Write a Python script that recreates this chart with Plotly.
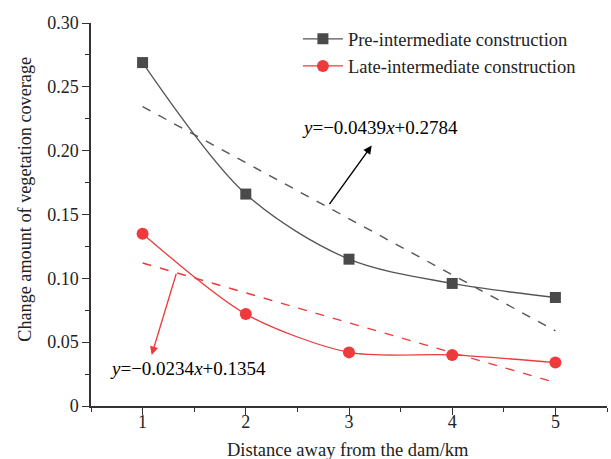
import plotly.graph_objects as go

distance = [1, 2, 3, 4, 5]
pre_values = [0.269, 0.166, 0.115, 0.096, 0.085]
late_values = [0.135, 0.072, 0.042, 0.040, 0.034]

fit_x = [1, 5]
pre_fit = [0.2345, 0.0589]
late_fit = [0.1120, 0.0184]

pre_label = "Pre-intermediate construction"
late_label = "Late-intermediate construction"
pre_eq = "<i>y</i>=−0.0439<i>x</i>+0.2784"
late_eq = "<i>y</i>=−0.0234<i>x</i>+0.1354"
x_title = "Distance away from the dam/km"
y_title = "Change amount of vegetation coverage"

y_ticks = [0, 0.05, 0.10, 0.15, 0.20, 0.25, 0.30]
y_ticktext = ["0", "0.05", "0.10", "0.15", "0.20", "0.25", "0.30"]
x_ticks = [1, 2, 3, 4, 5]

GRAY = "#4a4a4a"
RED = "#ee3a3a"
FONT = "Liberation Serif"
FS = 18.5

fig = go.Figure()
fig.add_trace(go.Scatter(x=fit_x, y=pre_fit, mode="lines", showlegend=False,
                         line=dict(color="#555555", width=1.4, dash="dash")))
fig.add_trace(go.Scatter(x=fit_x, y=late_fit, mode="lines", showlegend=False,
                         line=dict(color=RED, width=1.4, dash="dash")))
fig.add_trace(go.Scatter(x=distance, y=pre_values, mode="lines+markers", name=pre_label,
                         line=dict(color="#555555", width=1.3, shape="spline", smoothing=0.9),
                         marker=dict(symbol="square", size=11, color=GRAY)))
fig.add_trace(go.Scatter(x=distance, y=late_values, mode="lines+markers", name=late_label,
                         line=dict(color=RED, width=1.3, shape="spline", smoothing=0.8),
                         marker=dict(symbol="circle", size=12, color=RED)))

# arrows
fig.add_annotation(x=3.22, y=0.204, ax=2.80, ay=0.157, xref="x", yref="y", axref="x", ayref="y",
                   text="", showarrow=True, arrowhead=2, arrowsize=1.2, arrowwidth=1.4,
                   arrowcolor="black")
fig.add_annotation(x=1.088, y=0.040, ax=1.33, ay=0.1047, xref="x", yref="y", axref="x", ayref="y",
                   text="", showarrow=True, arrowhead=2, arrowsize=1.2, arrowwidth=1.4,
                   arrowcolor=RED)
fig.add_annotation(x=2.525, y=0.218, xref="x", yref="y", text=pre_eq, showarrow=False,
                   xanchor="left", yanchor="middle", font=dict(family=FONT, size=19, color="black"))
fig.add_annotation(x=0.665, y=0.0296, xref="x", yref="y", text=late_eq, showarrow=False,
                   xanchor="left", yanchor="middle", font=dict(family=FONT, size=19, color="black"))

# axis titles
fig.add_annotation(x=-0.128, y=0.541, xref="paper", yref="paper",
                   text=y_title, textangle=-90, showarrow=False,
                   xanchor="center", yanchor="middle", font=dict(family=FONT, size=18.2, color="#222222"))
fig.add_annotation(x=0.498, y=-0.115, xref="paper", yref="paper",
                   text=x_title, showarrow=False,
                   xanchor="center", yanchor="middle", font=dict(family=FONT, size=FS, color="#222222"))

axis_common = dict(showline=True, linecolor="#333333", linewidth=1.5, ticks="outside",
                   ticklen=7, tickwidth=1.3, tickcolor="#333333", showgrid=False, zeroline=False,
                   automargin=False,
                   tickfont=dict(family=FONT, size=18, color="#222222"),
                   minor=dict(ticks="outside", ticklen=4, tickwidth=1.2, tickcolor="#333333"))

fig.update_xaxes(range=[0.5, 5.5], tickvals=x_ticks, ticklabelstandoff=-8, **axis_common)
fig.update_xaxes(minor=dict(dtick=0.5, tick0=0.5))
fig.update_yaxes(range=[0, 0.30], tickvals=y_ticks, ticktext=y_ticktext, **axis_common)
fig.update_yaxes(minor=dict(dtick=0.025, tick0=0))

fig.update_layout(
    width=611, height=459,
    margin=dict(l=91, r=4, t=23, b=53),
    paper_bgcolor="white", plot_bgcolor="white",
    font=dict(family=FONT, size=FS, color="#222222"),
    legend=dict(x=0.401, y=1.007, xanchor="left", yanchor="top", bgcolor="rgba(0,0,0,0)",
                font=dict(family=FONT, size=FS, color="#222222"), tracegroupgap=0,
                itemwidth=40),
)

fig.write_html("out.html")
